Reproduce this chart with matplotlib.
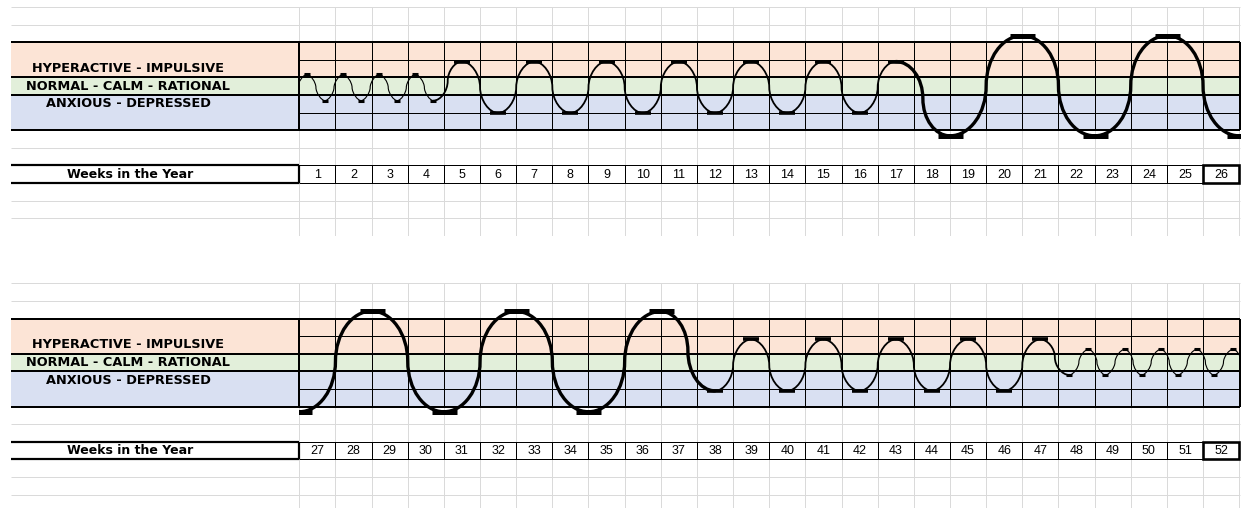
import matplotlib
matplotlib.use('Agg')
import matplotlib.pyplot as plt
from matplotlib.path import Path
from matplotlib.patches import PathPatch, Rectangle

# ── Mood swings: turning points of the curve ─────────────────────────────────
# week position (week n is centred on n) and level in table rows,
# measured from the middle of the NORMAL band (+ = hyperactive, - = depressed)
weeks_h1 = [0.21, 0.71, 1.21, 1.71, 2.21, 2.71, 3.21, 3.71, 4.21,
            5, 6, 7, 8, 9, 10, 11, 12, 13, 14, 15, 16, 17,
            18.5, 20.5, 22.5, 24.5, 26.5]
level_h1 = [-0.82, 0.67, -0.82, 0.67, -0.82, 0.67, -0.82, 0.67, -0.82,
            1.40, -1.52, 1.40, -1.52, 1.40, -1.52, 1.40, -1.52, 1.40, -1.52, 1.40, -1.52, 1.40,
            -2.82, 2.87, -2.82, 2.87, -2.82]

weeks_h2 = [26.5, 28.5, 30.5, 32.5, 34.5, 36.5,
            38, 39, 40, 41, 42, 43, 44, 45, 46, 47,
            47.8, 48.33, 48.8, 49.33, 49.8, 50.33, 50.8, 51.33, 51.8, 52.33, 52.8]
level_h2 = [-2.80, 2.92, -2.80, 2.90, -2.80, 2.90,
            -1.61, 1.31, -1.61, 1.31, -1.61, 1.31, -1.61, 1.31, -1.61, 1.31,
            -0.71, 0.75, -0.71, 0.75, -0.71, 0.75, -0.71, 0.75, -0.71, 0.75, -0.71]

week_labels_h1 = [str(w) for w in range(1, 27)]
week_labels_h2 = [str(w) for w in range(27, 53)]

band_labels = ['HYPERACTIVE - IMPULSIVE', 'NORMAL - CALM - RATIONAL', 'ANXIOUS - DEPRESSED']
band_levels = [1, 0, -1]

# ── Sheet geometry (pixels) ──────────────────────────────────────────────────
W, H = 1248, 508
COL0, COLW = 299.3, 36.15      # left edge of first week column, column width
ROWH = 17.6
LABEL_LEFT = 11

C_ORANGE = '#fce4d6'
C_GREEN = '#e2efda'
C_BLUE = '#d9e0f2'
C_GRID = '#dadada'

PX = 0.72  # one pixel in points at dpi 100

plt.rcParams['font.family'] = 'DejaVu Sans'
fig = plt.figure(figsize=(W / 100, H / 100), dpi=100)
fig.patch.set_facecolor('white')


def swing_class(a, b=0):
    m = max(abs(a), abs(b))
    return 0 if m < 1 else (1 if m < 2 else 2)


def half_wave(x0, y0, x1, y1, k):
    # two quarter arcs: flat at the turning points, steep at the crossing
    xm, ym = (x0 + x1) / 2, (y0 + y1) / 2
    verts = [(x0, y0), (x0 + k * (xm - x0), y0), (xm, ym + k * (y0 - ym)), (xm, ym),
             (xm, ym + k * (y1 - ym)), (x1 - k * (x1 - xm), y1), (x1, y1)]
    codes = [Path.MOVETO] + [Path.CURVE4] * 6
    return Path(verts, codes)


def draw_half(top_px, bottom_px, offset, weeks, levels, labels):
    ax = fig.add_axes([0, 1 - bottom_px / H, 1, (bottom_px - top_px) / H])
    x_at = lambda px: offset + 0.5 + (px - COL0) / COLW
    ax.set_xlim(x_at(0), x_at(W))
    ax.set_ylim(4.5 - (bottom_px - top_px) / ROWH, 4.5)
    ax.axis('off')

    xl, xr = x_at(LABEL_LEFT), offset + 26.52
    edges = [offset + 0.5 + k for k in range(27)]
    ybot = ax.get_ylim()[0]

    # coloured mood bands
    ax.fill_between([xl, xr], 0.5, 2.5, color=C_ORANGE, lw=0, zorder=0)
    ax.fill_between([xl, xr], -0.5, 0.5, color=C_GREEN, lw=0, zorder=0)
    ax.fill_between([xl, xr], -2.5, -0.5, color=C_BLUE, lw=0, zorder=0)

    # light sheet gridlines
    light_rows = [y for y in [4.5, 3.5, -3.5, -6.5, -7.5, -8.5] if y >= ybot]
    ax.hlines(light_rows, xl, xr, color=C_GRID, lw=PX, zorder=1)
    ax.vlines(edges, max(ybot, -8.5), 4.5, color=C_GRID, lw=PX, zorder=1)

    # mood table borders
    ax.hlines([2.5, 0.5, -0.5, -2.5], xl, xr, color='black', lw=2 * PX, zorder=2)
    ax.hlines([1.5, -1.5], edges[0], xr, color='black', lw=PX, zorder=2)
    ax.vlines(edges[1:-1], -2.5, 2.5, color='black', lw=PX, zorder=2)
    ax.vlines([edges[0], xr], -2.5, 2.5, color='black', lw=2 * PX, zorder=2)

    for txt, lev in zip(band_labels, band_levels):
        ax.text(x_at(128), lev, txt, ha='center', va='center',
                fontsize=9.3, fontweight='bold', zorder=4)

    # weeks row
    ax.hlines([-4.5, -5.5], xl, edges[0], color='black', lw=2.2 * PX, zorder=2)
    ax.vlines(edges[0], -5.5, -4.5, color='black', lw=2.2 * PX, zorder=2)
    ax.hlines([-4.5, -5.5], edges[0], edges[-1], color='black', lw=PX, zorder=2)
    ax.vlines(edges[1:], -5.5, -4.5, color='black', lw=PX, zorder=2)
    ax.add_patch(Rectangle((edges[-2], -5.5), 1, 1, fill=False,
                           ec='black', lw=2.6 * PX, zorder=3))
    ax.text(x_at(130), -5.0, 'Weeks in the Year', ha='center', va='center',
            fontsize=9, fontweight='bold', zorder=4)
    for k, lab in enumerate(labels):
        ax.text(offset + 1 + k, -5.02, lab, ha='center', va='center',
                fontsize=9, family='Liberation Sans', zorder=4)

    # mood curve, one half-wave between consecutive turning points
    clip = Rectangle((edges[0], -20), xr - edges[0], 40, transform=ax.transData)
    widths = [0.8, 1.3, 2.4]
    roundness = [0.4, 0.5, 0.55]
    for x0, y0, x1, y1 in zip(weeks[:-1], levels[:-1], weeks[1:], levels[1:]):
        c = swing_class(y0, y1)
        p = PathPatch(half_wave(x0, y0, x1, y1, roundness[c]), fill=False,
                      ec='black', capstyle='round', lw=widths[c], zorder=5)
        ax.add_patch(p)
        p.set_clip_path(clip)

    # flat tops / bottoms at each turning point
    bar = [(4.5, 2.2), (11.5, 2.6), (18, 3.6)]
    for c in range(3):
        xs = [x for x, y in zip(weeks, levels) if swing_class(y) == c]
        ys = [y for y in levels if swing_class(y) == c]
        ln, = ax.plot(xs, ys, ls='none', marker='_', ms=bar[c][0],
                      mew=bar[c][1], color='black', zorder=6)
        ln.set_clip_path(clip)
    return ax


draw_half(7, 7 + 13 * ROWH, 0, weeks_h1, level_h1, week_labels_h1)
draw_half(283.3, H, 26, weeks_h2, level_h2, week_labels_h2)

fig.savefig('out.png', dpi=100, facecolor='white')
